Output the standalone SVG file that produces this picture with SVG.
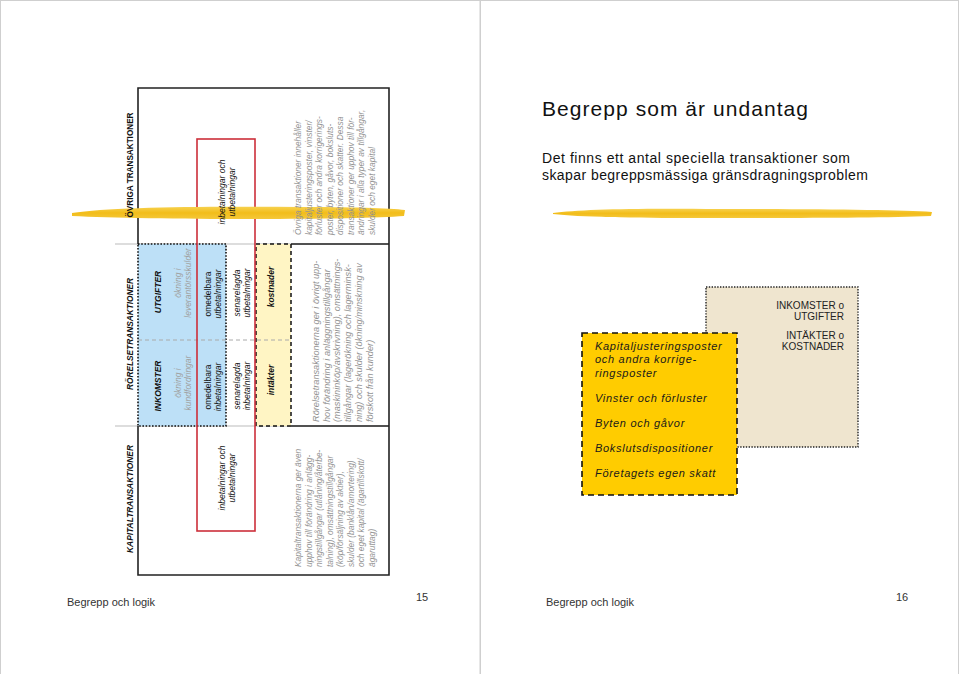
<svg xmlns="http://www.w3.org/2000/svg" width="960" height="674" viewBox="0 0 960 674">
<style>
text{font-family:"Liberation Sans",Arial,sans-serif}
.h{font-size:9px;font-weight:bold;fill:#111}
.hi{font-size:9px;font-weight:bold;font-style:italic;fill:#111}
.bi{font-size:8.5px;font-weight:bold;font-style:italic;fill:#111}
.g{font-size:8.5px;font-style:italic;fill:#a0a0a0}
.k{font-size:8.5px;fill:#111}
.ki{font-size:8.5px;font-style:italic;fill:#111}
.d{font-size:8.4px;font-style:italic;fill:#929292}
.dm{font-size:9.2px;font-style:italic;fill:#929292}
.ft{font-size:11px;fill:#333}
.box{font-size:11px;font-style:italic;fill:#1a1a1a;letter-spacing:0.7px}
.bx{font-size:10px;fill:#222;text-anchor:end}
.page{fill:none;stroke:#cfcfcf;stroke-width:1}
</style>
<defs>
<linearGradient id="brush" x1="0" y1="0" x2="0" y2="1">
<stop offset="0" stop-color="#f7d250"/>
<stop offset="0.5" stop-color="#f2bd1a"/>
<stop offset="1" stop-color="#f5c83a"/>
</linearGradient>
</defs>
<rect width="960" height="674" fill="#fff"/>
<g id="pages">
<rect class="page" x="0.5" y="0.5" width="479.5" height="700"/>
<rect class="page" x="480.5" y="0.5" width="478" height="700"/>
</g>
<g id="table">
<g id="table-frame">
<line x1="115" y1="244" x2="389" y2="244" stroke="#bbb" stroke-width="1.2"/>
<line x1="115" y1="426" x2="389" y2="426" stroke="#bbb" stroke-width="1.2"/>
<path d="M138,244 V88 H389 V575 H138 V426" fill="none" stroke="#222" stroke-width="1.6"/>
<line x1="291" y1="244" x2="389" y2="244" stroke="#222" stroke-width="1.6"/>
<line x1="291" y1="426" x2="389" y2="426" stroke="#222" stroke-width="1.6"/>
</g>
<g id="blue-cell">
<rect x="138" y="244" width="88" height="182" fill="#bde0f7" stroke="#111" stroke-width="1.6" stroke-dasharray="1.6 1.6"/>
</g>
<g id="yellow-cell">
<rect x="256" y="244" width="35" height="182" fill="#fff5c4" stroke="#111" stroke-width="1.5" stroke-dasharray="4 3"/>
</g>
<line x1="138" y1="340" x2="291" y2="340" stroke="#aaa" stroke-width="1" stroke-dasharray="4 3"/>
<g id="red-box">
<rect x="197" y="139" width="58" height="392" fill="none" stroke="#cc2f3a" stroke-width="1.6"/>
</g>
</g>
<g id="brushes">
<path d="M72,213 C110,207 200,206 300,207 C350,207 390,208 405,210 L404,216 C380,218 320,219 250,219 C180,219 110,218 72,216 Z" fill="url(#brush)"/>
<path d="M553,213 C580,209 640,208 720,209 C820,209 900,210 932,212 L931,216 C880,218 800,218 700,218 C630,218 580,217 553,214 Z" fill="url(#brush)"/>
</g>
<g id="table-text">
<g id="headings">
<text class="h" transform="translate(132.5,165) rotate(-90)" text-anchor="middle" textLength="105" lengthAdjust="spacingAndGlyphs">ÖVRIGA TRANSAKTIONER</text>
<text class="hi" transform="translate(132.5,334) rotate(-90)" text-anchor="middle" textLength="112" lengthAdjust="spacingAndGlyphs">RÖRELSETRANSAKTIONER</text>
<text class="hi" transform="translate(132.5,499) rotate(-90)" text-anchor="middle" textLength="108" lengthAdjust="spacingAndGlyphs">KAPITALTRANSAKTIONER</text>
</g>
<g id="rorelse-cells">
<text class="bi" transform="translate(160.5,386) rotate(-90)" text-anchor="middle">INKOMSTER</text>
<text class="g" transform="translate(181,383) rotate(-90)" text-anchor="middle"><tspan x="0">ökning i</tspan><tspan x="0" dy="10">kundfordringar</tspan></text>
<text class="bi" transform="translate(160.5,292) rotate(-90)" text-anchor="middle">UTGIFTER</text>
<text class="g" transform="translate(181,283) rotate(-90)" text-anchor="middle"><tspan x="0">ökning i</tspan><tspan x="0" dy="10">leverantörsskulder</tspan></text>
<text class="k" transform="translate(211,387) rotate(-90)" text-anchor="middle"><tspan x="0">omedelbara</tspan><tspan x="0" dy="9.5" font-style="italic">inbetalningar</tspan></text>
<text class="k" transform="translate(211,294) rotate(-90)" text-anchor="middle"><tspan x="0">omedelbara</tspan><tspan x="0" dy="9.5" font-style="italic">utbetalningar</tspan></text>
<text class="ki" transform="translate(240,386) rotate(-90)" text-anchor="middle"><tspan x="0">senarelagda</tspan><tspan x="0" dy="10">inbetalningar</tspan></text>
<text class="ki" transform="translate(240,293) rotate(-90)" text-anchor="middle"><tspan x="0">senarelagda</tspan><tspan x="0" dy="10">utbetalningar</tspan></text>
<text class="bi" transform="translate(273.5,380) rotate(-90)" text-anchor="middle">intäkter</text>
<text class="bi" transform="translate(273.5,287) rotate(-90)" text-anchor="middle">kostnader</text>
</g>
<g id="red-labels">
<text class="ki" transform="translate(225,192) rotate(-90)" text-anchor="middle"><tspan x="0">inbetalningar och</tspan><tspan x="0" dy="10">utbetalningar</tspan></text>
<text class="ki" transform="translate(225,478) rotate(-90)" text-anchor="middle"><tspan x="0">inbetalningar och</tspan><tspan x="0" dy="10">utbetalningar</tspan></text>
</g>
<g id="descriptions">
<text class="d" transform="translate(301,235) rotate(-90)">
<tspan x="0">Övriga transaktioner innehåller</tspan>
<tspan x="0" dy="10.5">kapitaljusteringsposter, vinster/</tspan>
<tspan x="0" dy="10.5">förluster och andra korrigerings-</tspan>
<tspan x="0" dy="10.5">poster, byten, gåvor, boksluts-</tspan>
<tspan x="0" dy="10.5">dispositioner och skatter. Dessa</tspan>
<tspan x="0" dy="10.5">transaktioner ger upphov till för-</tspan>
<tspan x="0" dy="10.5">ändringar i alla typer av tillgångar,</tspan>
<tspan x="0" dy="10.5">skulder och eget kapital</tspan>
</text>
<text class="dm" transform="translate(319,422) rotate(-90)">
<tspan x="0">Rörelsetransaktionerna ger i övrigt upp-</tspan>
<tspan x="0" dy="10.7">hov förändring i anläggningstillgångar</tspan>
<tspan x="0" dy="10.7">(maskininköp/avskrivning), omsättnings-</tspan>
<tspan x="0" dy="10.7">tillgångar (lagerökning och lagerminsk-</tspan>
<tspan x="0" dy="10.7">ning) och skulder (ökning/minskning av</tspan>
<tspan x="0" dy="10.7">förskott från kunder)</tspan>
</text>
<text class="d" transform="translate(301,567) rotate(-90)">
<tspan x="0">Kapitaltransaktionerna ger även</tspan>
<tspan x="0" dy="10.5">upphov till förändring i anlägg-</tspan>
<tspan x="0" dy="10.5">ningstillgångar (utlåning/återbe-</tspan>
<tspan x="0" dy="10.5">talning), omsättningstillgångar</tspan>
<tspan x="0" dy="10.5">(köp/försäljning av aktier),</tspan>
<tspan x="0" dy="10.5">skulder (banklån/amortering)</tspan>
<tspan x="0" dy="10.5">och eget kapital (ägartillskott/</tspan>
<tspan x="0" dy="10.5">ägaruttag)</tspan>
</text>
</g>
</g>
<g id="right-header">
<text x="542" y="116" font-size="21" fill="#111" textLength="266" lengthAdjust="spacing">Begrepp som är undantag</text>
<text x="542" y="163" font-size="14" fill="#111" textLength="308" lengthAdjust="spacing">Det finns ett antal speciella transaktioner som</text>
<text x="542" y="180" font-size="14" fill="#111" textLength="326" lengthAdjust="spacing">skapar begreppsmässiga gränsdragningsproblem</text>
</g>
<g id="beige-box">
<rect x="706" y="287" width="152" height="160" fill="#efe5cf" stroke="#222" stroke-width="1.4" stroke-dasharray="1.4 1.4"/>
<text class="bx" x="844" y="309">INKOMSTER o</text>
<text class="bx" x="844" y="320">UTGIFTER</text>
<text class="bx" x="844" y="339">INTÄKTER o</text>
<text class="bx" x="844" y="350">KOSTNADER</text>
</g>
<g id="yellow-box">
<rect x="582" y="333" width="155" height="162" fill="#ffcc00" stroke="#111" stroke-width="1.6" stroke-dasharray="6 4"/>
<text class="box" x="595" y="350">Kapitaljusteringsposter</text>
<text class="box" x="595" y="363">och andra korrige-</text>
<text class="box" x="595" y="377">ringsposter</text>
<text class="box" x="595" y="402">Vinster och förluster</text>
<text class="box" x="595" y="427">Byten och gåvor</text>
<text class="box" x="595" y="452">Bokslutsdispositioner</text>
<text class="box" x="595" y="477">Företagets egen skatt</text>
</g>
<g id="connectors"></g>
<g id="footers">
<text class="ft" x="67" y="606">Begrepp och logik</text>
<text class="ft" x="416" y="601">15</text>
<text class="ft" x="546" y="606">Begrepp och logik</text>
<text class="ft" x="896" y="601">16</text>
</g>
</svg>
